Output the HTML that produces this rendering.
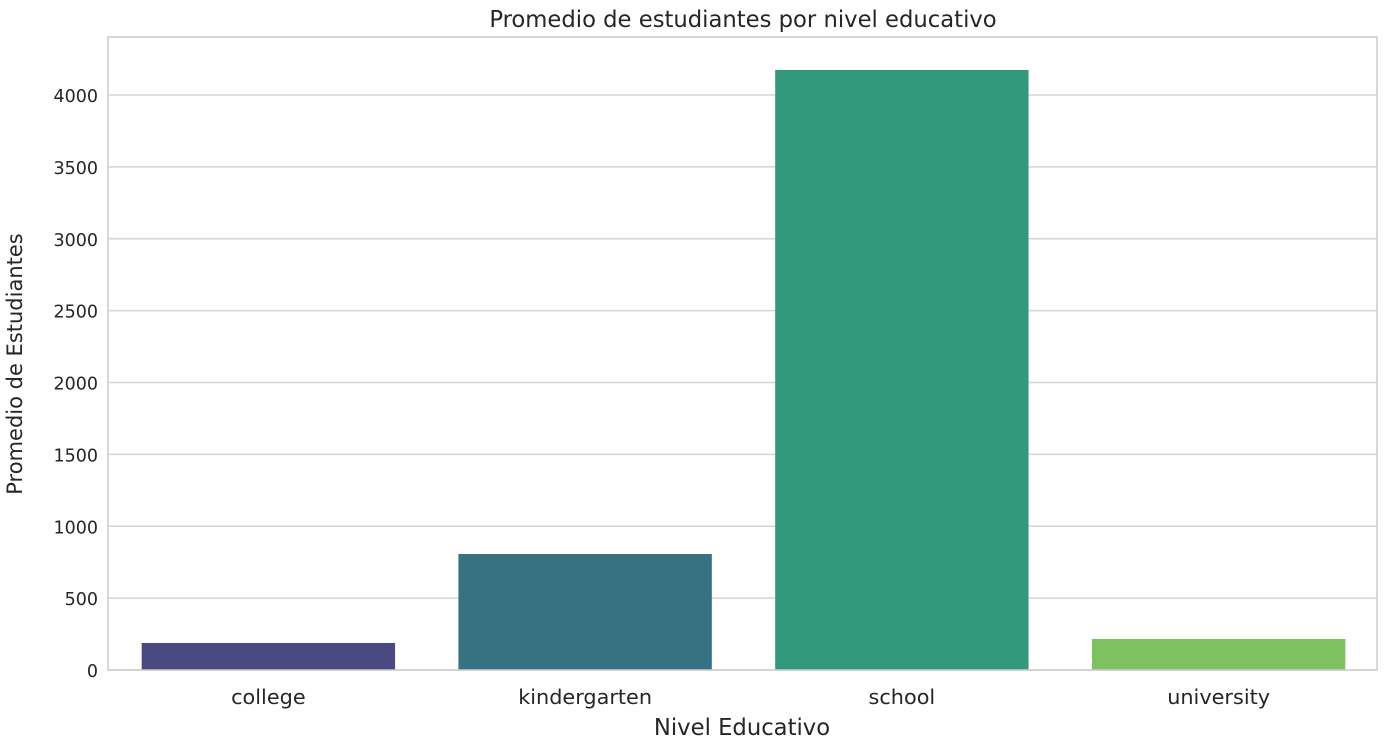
<!DOCTYPE html>
<html><head><meta charset="utf-8"><style>
html,body{margin:0;padding:0;background:#fff;}
svg{display:block;font-family:"DejaVu Sans","Liberation Sans",sans-serif;}
</style></head><body>
<svg id="chart" width="1385" height="747">
<text x="743" y="27" text-anchor="middle" font-size="22.7" fill="#262626">Promedio de estudiantes por nivel educativo</text>
<g id="grid"></g><g id="bars"></g><g id="yticks"></g><g id="xticks"></g>
<rect x="108" y="37" width="1269" height="633" fill="none" stroke="#cccccc" stroke-width="1.5"/>
<text x="742" y="735" text-anchor="middle" font-size="22.7" fill="#262626">Nivel Educativo</text>
<text transform="translate(22,364) rotate(-90)" text-anchor="middle" font-size="21" fill="#262626">Promedio de Estudiantes</text>
</svg>
<script>
const categories=["college","kindergarten","school","university"];
const values=[188,807,4174,216];
const colors=["#4a4a80","#367282","#33997c","#7dc160"];
const yTicks=[0,500,1000,1500,2000,2500,3000,3500,4000];
const NS="http://www.w3.org/2000/svg";
const L=110,R=1377,B=670,pxPer=575/4000;
const y=v=>B-v*pxPer;
const bw=(R-L)/categories.length;
const x=i=>L+bw*i;
function mk(t,a){const e=document.createElementNS(NS,t);for(const k in a)e.setAttribute(k,a[k]);return e;}
const grid=document.getElementById('grid'),yt=document.getElementById('yticks');
yTicks.forEach(t=>{
 const l=mk('line',{x1:108,x2:R,y1:y(t),y2:y(t),stroke:'#d5d5d5','stroke-width':1.5});
 
 
 grid.appendChild(l);
 const tx=mk('text',{x:98,y:y(t)+7,'text-anchor':'end','font-size':17.5,fill:'#262626'});
 tx.textContent=t;
 
 
 yt.appendChild(tx);
});
const bars=document.getElementById('bars'),xt=document.getElementById('xticks');
categories.forEach((c,i)=>{
 const w=bw*0.8;
 const r=mk('rect',{x:x(i)+bw*0.1,y:y(values[i]),width:w,height:B-y(values[i]),fill:colors[i]});
 
 
 bars.appendChild(r);
 const tx=mk('text',{x:x(i)+bw/2,y:B+34,'text-anchor':'middle','font-size':20.8,fill:'#262626'});
 tx.textContent=c;
 
 
 xt.appendChild(tx);
});
</script>
</body></html>
